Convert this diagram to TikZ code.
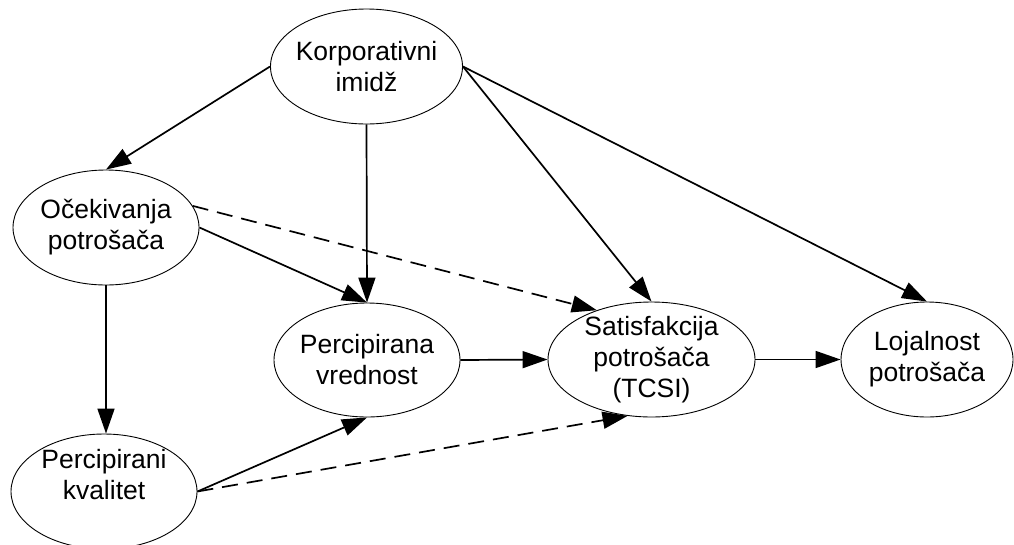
\documentclass[tikz,border=0pt]{standalone}
\usepackage{fontspec}
\setmainfont{Liberation Sans}
\usetikzlibrary{shapes.geometric,arrows.meta}
\begin{document}
\begin{tikzpicture}[x=1pt,y=-1pt,
  ell/.style n args={3}{ellipse,draw,line width=0.9pt,inner sep=0pt,
     minimum width=#1pt,minimum height=#2pt,
     label={[align=center,font=\fontsize{26.5}{31}\selectfont,inner sep=0pt]center:#3}},
  conn/.style={line width=1.7pt,-{Triangle[length=25pt,width=17pt]}},
  dconn/.style={conn,dash pattern=on 16pt off 9pt}]
\useasboundingbox (0,0) rectangle (1014,544);
\node[ell={192}{115}{Korporativni\\imidž}] (korp) at (366.5,66.5) {};
\node[ell={186}{115}{Očekivanja\\potrošača}] (oce) at (106,227.5) {};
\node[ell={186}{114}{Percipirana\\vrednost}] (perc) at (367,360) {};
\node[ell={207}{115}{Satisfakcija\\potrošača\\(TCSI)}] (sat) at (651.5,359.5) {};
\node[ell={172}{115}{Lojalnost\\potrošača}] (loj) at (927,359.5) {};
\node[ellipse,draw,line width=0.9pt,inner sep=0pt,minimum width=186pt,minimum height=115pt,
  label={[align=center,font=\fontsize{26.5}{31}\selectfont,inner sep=0pt,yshift=17pt]center:Percipirani\\kvalitet}] (kv) at (104,491.5) {};
\draw[conn] (korp.west) -- (oce.north);
\draw[conn] (korp.south) -- (perc.north);
\draw[conn] (korp.east) -- (sat.north);
\draw[conn] (korp.east) -- (loj.north);
\draw[conn] (oce.east) -- (perc.north);
\draw[dconn] (oce.14) -- (sat.138.8);
\draw[conn] (oce.south) -- (oce.south |- kv.north);
\draw[conn] (kv.east) -- (perc.south);
\draw[dconn] (kv.east) -- (sat.247);
\draw[conn] (perc.east) -- (sat.west);
\draw[conn] (sat.east) -- (loj.west);
\end{tikzpicture}
\end{document}
